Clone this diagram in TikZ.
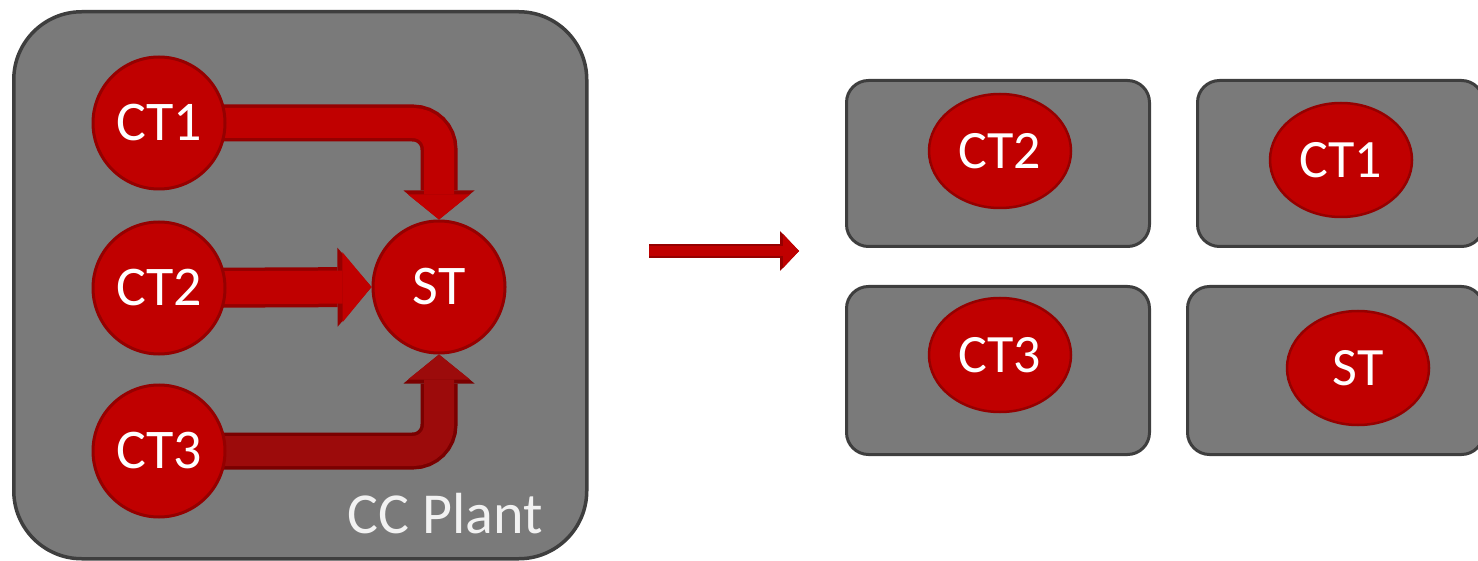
\documentclass[tikz,border=0pt]{standalone}
\usepackage{fontspec}
\setmainfont{Carlito}
\usetikzlibrary{arrows.meta,shapes.geometric}

\definecolor{panel}{HTML}{7A7A7A}
\definecolor{panelrim}{HTML}{3E3E3E}
\definecolor{unitred}{HTML}{C00000}
\definecolor{unitrim}{HTML}{950000}
\definecolor{flowdark}{HTML}{9C0B0B}
\definecolor{flowdarkrim}{HTML}{7A0000}
\definecolor{labelgrey}{HTML}{F2F2F2}

\pgfdeclarelayer{back}
\pgfdeclarelayer{flows}
\pgfsetlayers{back,flows,main}

\begin{document}
\begin{tikzpicture}[x=1pt,y=-1pt,
  panelbox/.style={rectangle, fill=panel, draw=panelrim, line width=3.5pt,
    inner sep=0pt, anchor=north west},
  unit/.style={circle, fill=unitred, draw=unitrim, line width=3pt,
    minimum size=132pt, inner sep=0pt, text=white,
    font=\fontsize{56}{60}\selectfont},
  slot/.style={ellipse, fill=unitred, draw=unitrim, line width=2.5pt,
    minimum width=142pt, minimum height=114pt, inner sep=0pt, text=white,
    font=\fontsize{54}{58}\selectfont},
  flow/.style 2 args={draw=#1, line width=30pt, rounded corners=26pt,
    -{Triangle[width=62pt,length=25pt,line width=0pt]},
    preaction={draw=#2, line width=37pt,
      -{Triangle[width=71pt,length=29pt,line width=0pt]}}},
  wide flow/.style 2 args={draw=#1, line width=33pt,
    -{Triangle[width=70pt,length=29pt,line width=0pt]},
    preaction={draw=#2, line width=40pt,
      -{Triangle[width=79pt,length=34pt,line width=0pt]}}},
  move/.style={draw=unitred, line width=10pt,
    -{Triangle[width=34pt,length=16pt,line width=0pt]},
    preaction={draw=unitrim, line width=14pt,
      -{Triangle[width=40pt,length=19pt,line width=0pt]}}},
]
\clip (0,0) rectangle (1478,561);
\useasboundingbox (0,0) rectangle (1478,561);

% combined-cycle plant panel
\begin{pgfonlayer}{back}
  \node[panelbox, rounded corners=68pt, minimum width=573pt, minimum height=547pt]
    (plant) at (12,10) {};
\end{pgfonlayer}

% turbines inside the plant
\node[unit] (CT1) at (159,123) {CT1};
\node[unit] (CT2) at (159,288) {CT2};
\node[unit] (CT3) at (159,451) {CT3};
\node[unit] (ST)  at (439,287) {ST};

\node[anchor=base east, text=labelgrey, font=\fontsize{58}{60}\selectfont, inner sep=0pt]
  (plantlabel) at (543,533) {CC Plant};

% exhaust flows into the steam turbine
\begin{pgfonlayer}{flows}
  \draw[flow={unitred}{unitrim}]       (CT1.center) -| (ST.north);
  \draw[wide flow={unitred}{unitrim}]  (CT2.center) -- (ST.west);
  \draw[flow={flowdark}{flowdarkrim}]  (CT3.center) -| (ST.south);
\end{pgfonlayer}

% transition arrow
\coordinate (movefrom) at (649,251);
\coordinate (moveto) at (799,251);
\draw[move] (movefrom) -- (moveto);

% separate units, one panel each
\node[panelbox, rounded corners=22pt, line width=3pt, minimum width=303pt, minimum height=166pt]
  (boxA) at (845,79) {};
\node[panelbox, rounded corners=22pt, line width=3pt, minimum width=286pt, minimum height=166pt]
  (boxB) at (1196,79) {};
\node[panelbox, rounded corners=22pt, line width=3pt, minimum width=303pt, minimum height=168pt]
  (boxC) at (845,285) {};
\node[panelbox, rounded corners=22pt, line width=3pt, minimum width=296pt, minimum height=168pt]
  (boxD) at (1186,285) {};

\node[slot] (uCT2) at (1000,151) {CT2};
\node[slot] (uCT1) at (1341,160) {CT1};
\node[slot] (uCT3) at (1000,355) {CT3};
\node[slot] (uST)  at (1358,368) {ST};
\end{tikzpicture}
\end{document}
